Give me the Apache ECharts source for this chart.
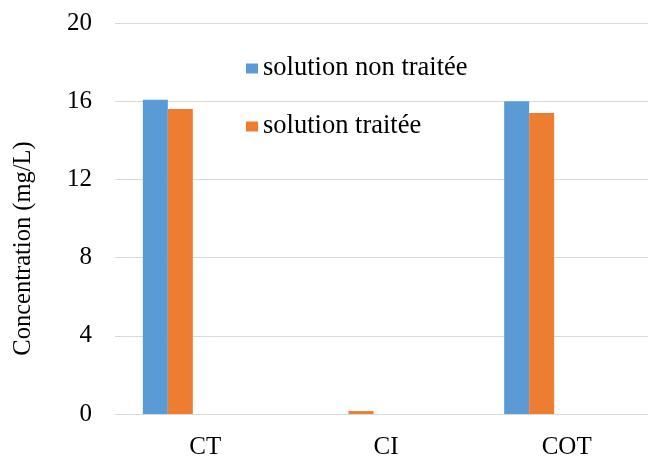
<!DOCTYPE html>
<html>
<head>
<meta charset="utf-8">
<script src="https://cdn.jsdelivr.net/npm/echarts@6/dist/echarts.min.js"></script>
<style>
html,body{margin:0;padding:0;background:#fff;}
#chart{width:648px;height:457px;}
</style>
</head>
<body>
<div id="chart"></div>
<script>
const categories = ['CT', 'CI', 'COT'];
const untreated = [16.07, 0, 16.0];
const treated = [15.6, 0.15, 15.4];
const yTicks = { min: 0, max: 20, interval: 4 };
const seriesNames = ['solution non traitée', 'solution traitée'];
const emptySlots = [null, null, null];

const FONT = "'Liberation Serif', 'Times New Roman', serif";
const chart = echarts.init(document.getElementById('chart'), null, { renderer: 'canvas' });

const placeholder = (id) => ({
  type: 'bar', name: id, data: emptySlots, barWidth: 25, barGap: '0%', silent: true
});
const legendText = { fontFamily: FONT, fontSize: 26.5, color: '#000' };

chart.setOption({
  animation: false,
  backgroundColor: '#fff',
  textStyle: { fontFamily: FONT },
  grid: { left: 115, width: 542, top: 23, bottom: 43, containLabel: false, outerBoundsMode: 'none' },
  legend: {
    data: seriesNames,
    orient: 'vertical',
    left: 241,
    top: 50,
    itemWidth: 12,
    itemHeight: 10,
    itemGap: 31,
    icon: 'rect',
    textStyle: legendText
  },
  xAxis: {
    type: 'category',
    data: categories,
    axisLine: { lineStyle: { color: '#D9D9D9', width: 1 } },
    axisTick: { show: false },
    axisLabel: { fontFamily: FONT, fontSize: 25, color: '#000', margin: 21 },
    splitLine: { show: false }
  },
  yAxis: {
    type: 'value',
    min: yTicks.min, max: yTicks.max, interval: yTicks.interval,
    name: 'Concentration (mg/L)',
    nameLocation: 'middle',
    nameGap: 79,
    nameTextStyle: { fontFamily: FONT, fontSize: 24.5, color: '#000', padding: [0, 60, 0, 0] },
    axisLine: { show: false },
    axisTick: { show: false },
    axisLabel: { fontFamily: FONT, fontSize: 25, color: '#000', margin: 23 },
    splitLine: { lineStyle: { color: '#D9D9D9', width: 1 } }
  },
  series: [
    { type: 'bar', name: seriesNames[0], data: untreated, barWidth: 25, barGap: '0%', itemStyle: { color: '#5B9BD5' } },
    { type: 'bar', name: seriesNames[1], data: treated, barWidth: 25, barGap: '0%', itemStyle: { color: '#ED7D31' } },
    placeholder('_s3'),
    placeholder('_s4'),
    placeholder('_s5')
  ]
});
</script>
</body>
</html>
